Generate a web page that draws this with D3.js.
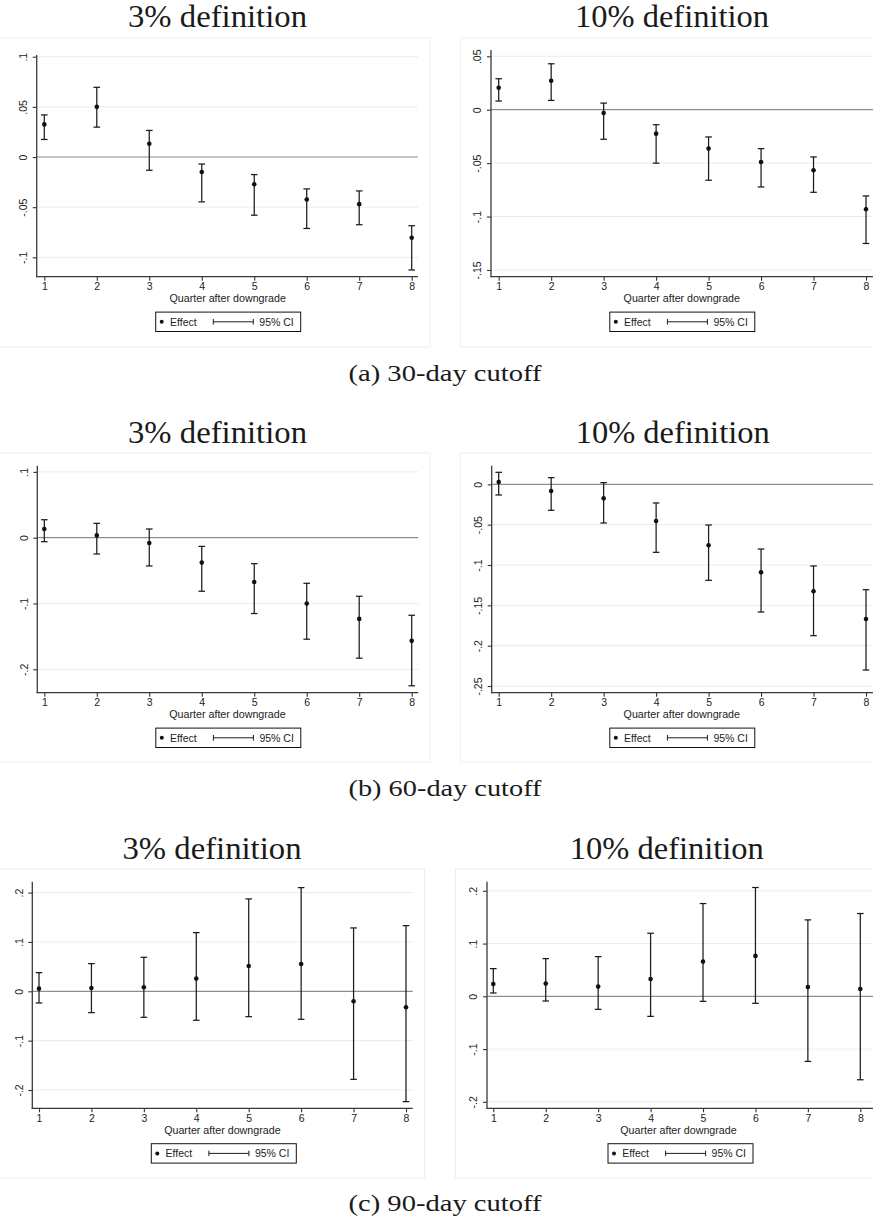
<!DOCTYPE html>
<html>
<head>
<meta charset="utf-8">
<script src="https://cdn.jsdelivr.net/npm/d3@7"></script>
<style>
  html, body { margin: 0; padding: 0; background: #fff; }
  svg { display: block; }
</style>
</head>
<body>
<svg id="chart" width="873" height="1221"></svg>
<script>
// ---------------- DATA ----------------
const quarters = [1, 2, 3, 4, 5, 6, 7, 8];

const titles = ["3% definition", "10% definition"];
const captions = ["(a) 30-day cutoff", "(b) 60-day cutoff", "(c) 90-day cutoff"];
const xLabel = "Quarter after downgrade";
const legendLabels = ["Effect", "95% CI"];

// 30-day cutoff, 3% definition
const est_30_3 = [0.0325, 0.0500, 0.0132, -0.0149, -0.0272, -0.0424, -0.0470, -0.0805];
const lo_30_3  = [0.0175, 0.0298, -0.0132, -0.0447, -0.0580, -0.0712, -0.0675, -0.1126];
const hi_30_3  = [0.0420, 0.0695, 0.0265, -0.0070, -0.0175, -0.0318, -0.0338, -0.0685];
// 30-day cutoff, 10% definition
const est_30_10 = [0.0206, 0.0271, -0.0031, -0.0224, -0.0364, -0.0489, -0.0567, -0.0931];
const lo_30_10  = [0.0081, 0.0087, -0.0277, -0.0500, -0.0660, -0.0723, -0.0773, -0.1252];
const hi_30_10  = [0.0290, 0.0430, 0.0062, -0.0140, -0.0255, -0.0364, -0.0442, -0.0807];
// 60-day cutoff, 3% definition
const est_60_3 = [0.0132, 0.0035, -0.0081, -0.0379, -0.0673, -0.1002, -0.1234, -0.1568];
const lo_60_3  = [-0.0061, -0.0248, -0.0430, -0.0814, -0.1153, -0.1543, -0.1831, -0.2251];
const hi_60_3  = [0.0273, 0.0218, 0.0132, -0.0132, -0.0395, -0.0693, -0.0890, -0.1179];
// 60-day cutoff, 10% definition
const est_60_10 = [0.0029, -0.0083, -0.0174, -0.0455, -0.0756, -0.1091, -0.1326, -0.1669];
const lo_60_10  = [-0.0132, -0.0322, -0.0479, -0.0843, -0.1190, -0.1583, -0.1876, -0.2302];
const hi_60_10  = [0.0149, 0.0083, 0.0021, -0.0231, -0.0504, -0.0802, -0.1012, -0.1306];
// 90-day cutoff, 3% definition
const est_90_3 = [0.0054, 0.0068, 0.0081, 0.0257, 0.0514, 0.0554, -0.0203, -0.0324];
const lo_90_3  = [-0.0236, -0.0432, -0.0527, -0.0588, -0.0514, -0.0568, -0.1784, -0.2236];
const hi_90_3  = [0.0378, 0.0561, 0.0689, 0.1189, 0.1872, 0.2101, 0.1284, 0.1331];
// 90-day cutoff, 10% definition
const est_90_10 = [0.0234, 0.0241, 0.0184, 0.0329, 0.0658, 0.0766, 0.0177, 0.0139];
const lo_90_10  = [0.0063, -0.0089, -0.0247, -0.0380, -0.0095, -0.0133, -0.1234, -0.1582];
const hi_90_10  = [0.0525, 0.0715, 0.0753, 0.1196, 0.1759, 0.2063, 0.1449, 0.1570];

// y-axis tick values and labels
const yTicks_30_3  = [-0.1, -0.05, 0, 0.05, 0.1];
const yLabels_30_3 = ["-.1", "-.05", "0", ".05", ".1"];
const yTicks_30_10  = [-0.15, -0.1, -0.05, 0, 0.05];
const yLabels_30_10 = ["-.15", "-.1", "-.05", "0", ".05"];
const yTicks_60_3  = [-0.2, -0.1, 0, 0.1];
const yLabels_60_3 = ["-.2", "-.1", "0", ".1"];
const yTicks_60_10  = [-0.25, -0.2, -0.15, -0.1, -0.05, 0];
const yLabels_60_10 = ["-.25", "-.2", "-.15", "-.1", "-.05", "0"];
const yTicks_90_3  = [-0.2, -0.1, 0, 0.1, 0.2];
const yLabels_90_3 = ["-.2", "-.1", "0", ".1", ".2"];
const yTicks_90_10  = [-0.2, -0.1, 0, 0.1, 0.2];
const yLabels_90_10 = ["-.2", "-.1", "0", ".1", ".2"];

// y-axis extents (data units)
const yRange_30_3  = [-0.1193, 0.1017];
const yRange_30_10 = [-0.1563, 0.0559];
const yRange_60_3  = [-0.2356, 0.1094];
const yRange_60_10 = [-0.2583, 0.0231];
const yRange_90_3  = [-0.2371, 0.2221];
const yRange_90_10 = [-0.2123, 0.2173];

// ---------------- LAYOUT ----------------
const panels = [
  { est: est_30_3, lo: lo_30_3, hi: hi_30_3, ticks: yTicks_30_3, labels: yLabels_30_3, yr: yRange_30_3,
    frame: [-1, 38, 430, 347], left: 36.7, right: 418, top: 55, bottom: 276.7, x1: 44.3, x8: 411.7,
    title: titles[0], tx: 217.5, ty: 26.7, labelCx: 227.7, legendCx: 228.2 },
  { est: est_30_10, lo: lo_30_10, hi: hi_30_10, ticks: yTicks_30_10, labels: yLabels_30_10, yr: yRange_30_10,
    frame: [460.7, 38, 880, 347], left: 491, right: 874, top: 50, bottom: 276.7, x1: 498.7, x8: 866,
    title: titles[1], tx: 672, ty: 26.7, labelCx: 681.8, legendCx: 682.3 },
  { est: est_60_3, lo: lo_60_3, hi: hi_60_3, ticks: yTicks_60_3, labels: yLabels_60_3, yr: yRange_60_3,
    frame: [-1, 453, 430, 762], left: 37.3, right: 418.3, top: 465.7, bottom: 692.7, x1: 44.3, x8: 411.7,
    title: titles[0], tx: 217.5, ty: 442.7, labelCx: 227.5, legendCx: 228.3 },
  { est: est_60_10, lo: lo_60_10, hi: hi_60_10, ticks: yTicks_60_10, labels: yLabels_60_10, yr: yRange_60_10,
    frame: [460.3, 453, 880, 762], left: 491.7, right: 874, top: 465.7, bottom: 692.7, x1: 498.7, x8: 866,
    title: titles[1], tx: 672.7, ty: 442.7, labelCx: 681.8, legendCx: 682.3 },
  { est: est_90_3, lo: lo_90_3, hi: hi_90_3, ticks: yTicks_90_3, labels: yLabels_90_3, yr: yRange_90_3,
    frame: [-1, 869, 424.5, 1178], left: 32.3, right: 412.7, top: 881.7, bottom: 1108.3, x1: 39, x8: 406,
    title: titles[0], tx: 212, ty: 859.3, labelCx: 222.4, legendCx: 223.8 },
  { est: est_90_10, lo: lo_90_10, hi: hi_90_10, ticks: yTicks_90_10, labels: yLabels_90_10, yr: yRange_90_10,
    frame: [455.5, 869, 880, 1178], left: 487, right: 874, top: 881.7, bottom: 1108.3, x1: 493.3, x8: 860.3,
    title: titles[1], tx: 666.8, ty: 859.3, labelCx: 678.5, legendCx: 680.5 }
];
const captionY = [380.7, 796.2, 1210.7];

const svg = d3.select("#chart");
const SANS = "Liberation Sans, Arial, sans-serif";
const SERIF = "Liberation Serif, Times New Roman, serif";

panels.forEach((p, i) => {
  const g = svg.append("g");
  // faint graph-region frame
  g.append("rect")
    .attr("x", p.frame[0]).attr("y", p.frame[1])
    .attr("width", p.frame[2] - p.frame[0]).attr("height", p.frame[3] - p.frame[1])
    .attr("fill", "none").attr("stroke", "#e9eff1").attr("stroke-width", 1);

  const x = d3.scaleLinear().domain([1, 8]).range([p.x1, p.x8]);
  const y = d3.scaleLinear().domain(p.yr).range([p.bottom, p.top]);

  // gridlines
  g.selectAll(".grid").data(p.ticks.filter(t => t !== 0)).join("line")
    .attr("x1", p.left).attr("x2", p.right)
    .attr("y1", d => y(d)).attr("y2", d => y(d))
    .attr("stroke", "#e4eeef").attr("stroke-width", 1);

  // zero line
  g.append("line")
    .attr("x1", p.left).attr("x2", p.right)
    .attr("y1", y(0)).attr("y2", y(0))
    .attr("stroke", "#8e8e8e").attr("stroke-width", 1.2);

  // y axis
  const yAxis = d3.axisLeft(y).tickValues(p.ticks)
    .tickFormat((d, k) => p.labels[k]).tickSize(4).tickPadding(0);
  const ya = g.append("g").attr("transform", `translate(${p.left},0)`).call(yAxis);
  ya.select(".domain").remove();
  ya.selectAll(".tick line").attr("stroke", "#333").attr("stroke-width", 1.1);
  ya.selectAll(".tick text")
    .attr("font-family", SANS).attr("font-size", 10.5).attr("fill", "#222")
    .attr("x", null).attr("dy", null)
    .attr("text-anchor", "middle")
    .attr("transform", "translate(-9.6,0) rotate(-90)");
  g.append("line").attr("x1", p.left).attr("x2", p.left)
    .attr("y1", p.top).attr("y2", p.bottom + 0.6)
    .attr("stroke", "#3a3a3a").attr("stroke-width", 1.3);

  // x axis
  const xAxis = d3.axisBottom(x).tickValues(quarters).tickFormat(d3.format("d"))
    .tickSize(4).tickPadding(2);
  const xa = g.append("g").attr("transform", `translate(0,${p.bottom})`).call(xAxis);
  xa.select(".domain").remove();
  xa.selectAll(".tick line").attr("stroke", "#333").attr("stroke-width", 1.1);
  xa.selectAll(".tick text").attr("font-family", SANS).attr("font-size", 10.5).attr("fill", "#222");
  g.append("line").attr("x1", p.left - 0.6).attr("x2", p.right)
    .attr("y1", p.bottom).attr("y2", p.bottom)
    .attr("stroke", "#3a3a3a").attr("stroke-width", 1.3);

  // x label
  g.append("text").attr("x", p.labelCx).attr("y", p.bottom + 25.6)
    .attr("text-anchor", "middle").attr("font-family", SANS).attr("font-size", 10.7)
    .attr("fill", "#222").text(xLabel);

  // CI bars
  const ci = g.append("g").attr("stroke", "#1c1c1c").attr("stroke-width", 1.25).attr("fill", "none");
  quarters.forEach((q, k) => {
    const xx = x(q);
    ci.append("line").attr("x1", xx).attr("x2", xx).attr("y1", y(p.lo[k])).attr("y2", y(p.hi[k]));
    ci.append("line").attr("x1", xx - 3.3).attr("x2", xx + 3.3).attr("y1", y(p.lo[k])).attr("y2", y(p.lo[k]));
    ci.append("line").attr("x1", xx - 3.3).attr("x2", xx + 3.3).attr("y1", y(p.hi[k])).attr("y2", y(p.hi[k]));
  });
  // points
  g.selectAll(".pt").data(quarters).join("circle")
    .attr("cx", d => x(d)).attr("cy", (d, k) => y(p.est[k])).attr("r", 2.3)
    .attr("fill", "#111");

  // legend
  const lx = p.legendCx - 72.5, ly = p.bottom + 35.4, lw = 145, lh = 19.4;
  const lg = g.append("g");
  lg.append("rect").attr("x", lx).attr("y", ly).attr("width", lw).attr("height", lh)
    .attr("fill", "#fff").attr("stroke", "#111").attr("stroke-width", 1);
  const my = ly + lh / 2;
  lg.append("circle").attr("cx", lx + 6).attr("cy", my).attr("r", 2).attr("fill", "#111");
  lg.append("text").attr("x", lx + 14.3).attr("y", my + 3.8).attr("font-family", SANS)
    .attr("font-size", 10.5).attr("fill", "#222").text(legendLabels[0]);
  const s = lg.append("g").attr("stroke", "#1c1c1c").attr("stroke-width", 1);
  s.append("line").attr("x1", lx + 57.6).attr("x2", lx + 97.6).attr("y1", my).attr("y2", my);
  s.append("line").attr("x1", lx + 57.6).attr("x2", lx + 57.6).attr("y1", my - 2.8).attr("y2", my + 2.8);
  s.append("line").attr("x1", lx + 97.6).attr("x2", lx + 97.6).attr("y1", my - 2.8).attr("y2", my + 2.8);
  lg.append("text").attr("x", lx + 103.6).attr("y", my + 3.8).attr("font-family", SANS)
    .attr("font-size", 10.5).attr("fill", "#222").text(legendLabels[1]);

  // panel title
  svg.append("text").attr("x", p.tx).attr("y", p.ty).attr("text-anchor", "middle")
    .attr("font-family", SERIF).attr("font-size", 30.5).attr("fill", "#1a1a1a")
    .attr("textLength", p.title.startsWith("10") ? 194 : 179).attr("lengthAdjust", "spacingAndGlyphs")
    .text(p.title);
});

captions.forEach((c, i) => {
  svg.append("text").attr("x", 445).attr("y", captionY[i]).attr("text-anchor", "middle")
    .attr("font-family", SERIF).attr("font-size", 23.5).attr("fill", "#1a1a1a")
    .attr("textLength", 193).attr("lengthAdjust", "spacingAndGlyphs")
    .text(c);
});
</script>
</body>
</html>
